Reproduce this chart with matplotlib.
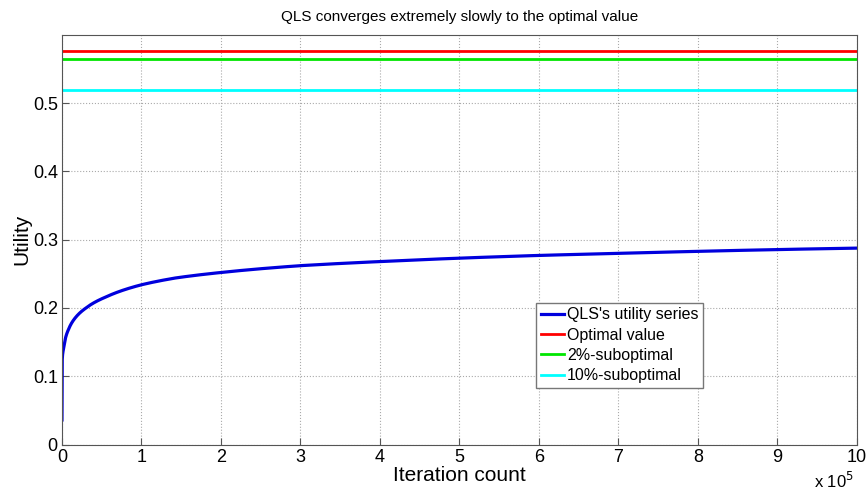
import numpy as np
import matplotlib.pyplot as plt
from matplotlib.ticker import FuncFormatter

plt.rcParams['font.family'] = ['Liberation Sans', 'DejaVu Sans']

# QLS utility series (iterations, utility)
iters = [0, 200, 2000, 8000, 17000, 29000, 55000, 100000, 143000, 200000,
         300000, 400000, 500000, 600000, 700000, 800000, 900000, 1000000]
utility = [0.036, 0.12, 0.14, 0.168, 0.186, 0.199, 0.216, 0.234, 0.244, 0.252,
           0.262, 0.268, 0.273, 0.277, 0.280, 0.283, 0.2856, 0.2877]

optimal = 0.5765
subopt_2 = optimal * 0.98
subopt_10 = optimal * 0.90

x_max = 1000000
x_ticks = np.arange(0, 11) * 100000
y_ticks = [0, 0.1, 0.2, 0.3, 0.4, 0.5]

fig = plt.figure(figsize=(8.68, 4.92), dpi=100)
ax = fig.add_axes([0.0714, 0.0965, 0.9156, 0.8325])

# draw through the read points, interpolated in log space
xs = np.concatenate([[0], np.logspace(np.log10(200), np.log10(x_max), 600)])
ys = np.interp(np.log10(np.maximum(xs, 1)), np.log10(np.maximum(iters, 1)), utility)
ys[0] = utility[0]

ax.plot(xs, ys, color='#0000dd', lw=2.3, label="QLS's utility series")
ax.plot([0, x_max], [optimal, optimal], color='#ff0000', lw=2, label='Optimal value')
ax.plot([0, x_max], [subopt_2, subopt_2], color='#00e600', lw=2, label='2%-suboptimal')
ax.plot([0, x_max], [subopt_10, subopt_10], color='#00ffff', lw=2, label='10%-suboptimal')

ax.set_xlim(0, x_max)
ax.set_ylim(0, 0.6)
ax.set_xticks(x_ticks)
ax.set_yticks(y_ticks)
ax.xaxis.set_major_formatter(FuncFormatter(lambda v, p: f'{v / 1e5:g}'))
ax.yaxis.set_major_formatter(FuncFormatter(lambda v, p: f'{v:g}'))
ax.tick_params(direction='in', length=5, labelsize=13, color='#555555', pad=3)
ax.grid(True, linestyle=':', color='#aaaaaa', lw=0.8)
for s in ax.spines.values():
    s.set_color('#555555')

ax.set_xlabel('Iteration count', fontsize=15, labelpad=0)
ax.set_ylabel('Utility', fontsize=15, labelpad=1)
ax.set_title('QLS converges extremely slowly to the optimal value', fontsize=11, pad=10)
ax.text(0.997, -0.09, r'x 10$^5$', transform=ax.transAxes, ha='right', va='center', fontsize=12)

leg = ax.legend(loc='lower left', bbox_to_anchor=(0.597, 0.138), fontsize=11.5,
                handlelength=1.4, handletextpad=0.2, labelspacing=0.33,
                borderpad=0.3, fancybox=False, framealpha=1, borderaxespad=0)
leg.get_frame().set_edgecolor('#777777')
leg.get_frame().set_linewidth(1)

fig.savefig('out.png', dpi=100)
